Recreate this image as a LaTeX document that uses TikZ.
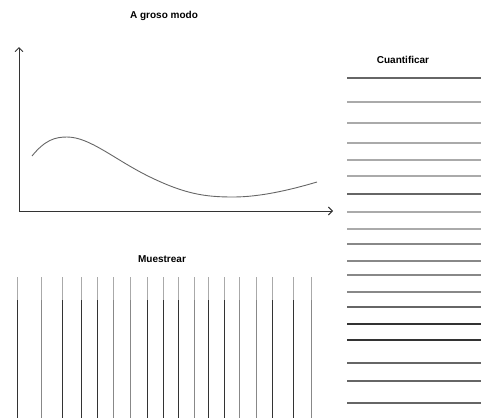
\documentclass[tikz,border=0pt]{standalone}
\usepackage{fontspec}
\setmainfont{Liberation Sans}
\usetikzlibrary{arrows.meta}
\definecolor{dk}{HTML}{333333}
\definecolor{md}{HTML}{888888}
\definecolor{lt}{HTML}{AAAAAA}
\definecolor{mh}{HTML}{666666}
\tikzset{
  lbl/.style={font=\fontsize{10}{12}\selectfont\bfseries, inner sep=0pt, text=black},
  axis/.style={draw=dk, line width=0.9pt, -{Straight Barb[length=4pt,width=8pt]}},
  hl/.style={line width=1.1pt},
  vl/.style={line width=1pt},
}
\begin{document}
\begin{tikzpicture}[x=1pt,y=-1pt]
\useasboundingbox (0,0) rectangle (481,418);
% titles
\node[lbl] (t1) at (164,16) {A groso modo};
\node[lbl] (t2) at (403,60) {Cuantificar};
\node[lbl] (t3) at (162,259) {Muestrear};
% axes
\coordinate (o) at (19,211);
\coordinate (ytop) at (19,47);
\coordinate (xend) at (333,211);
\draw[axis] (o) -- (ytop);
\draw[axis] (o) -- (xend);
% curve
\draw[draw=mh, line width=0.9pt] (32,156) .. controls (45,140) and (55,137) .. (67,137)
  .. controls (90,137) and (115,160) .. (150,177)
  .. controls (185,194) and (205,197) .. (233,197)
  .. controls (260,197) and (290,190) .. (317,182);
% horizontal quantization lines
\foreach \y/\c in {78/mh,102/lt,123/lt,143/lt,160/lt,176/lt,194/mh,212/lt,229/lt,
                   244/md,261/md,275/md,292/md,307/mh,324/dk,340/dk,363/mh,381/mh,403/mh}
  \draw[hl, draw=\c] (347,\y) -- (481,\y);
% vertical sampling lines
\foreach \x/\c in {17.3/dk,41.7/md,62.3/dk,81/dk,97.3/dk,113/md,130/md,147.7/dk,163.7/dk,
                   178.7/dk,194/md,208/dk,224.3/dk,239.7/md,256.7/md,272.3/dk,293.7/dk,311/md}
  {\draw[vl, draw=lt] (\x,277) -- (\x,300);
   \draw[vl, draw=\c] (\x,300) -- (\x,418);}
\end{tikzpicture}
\end{document}
